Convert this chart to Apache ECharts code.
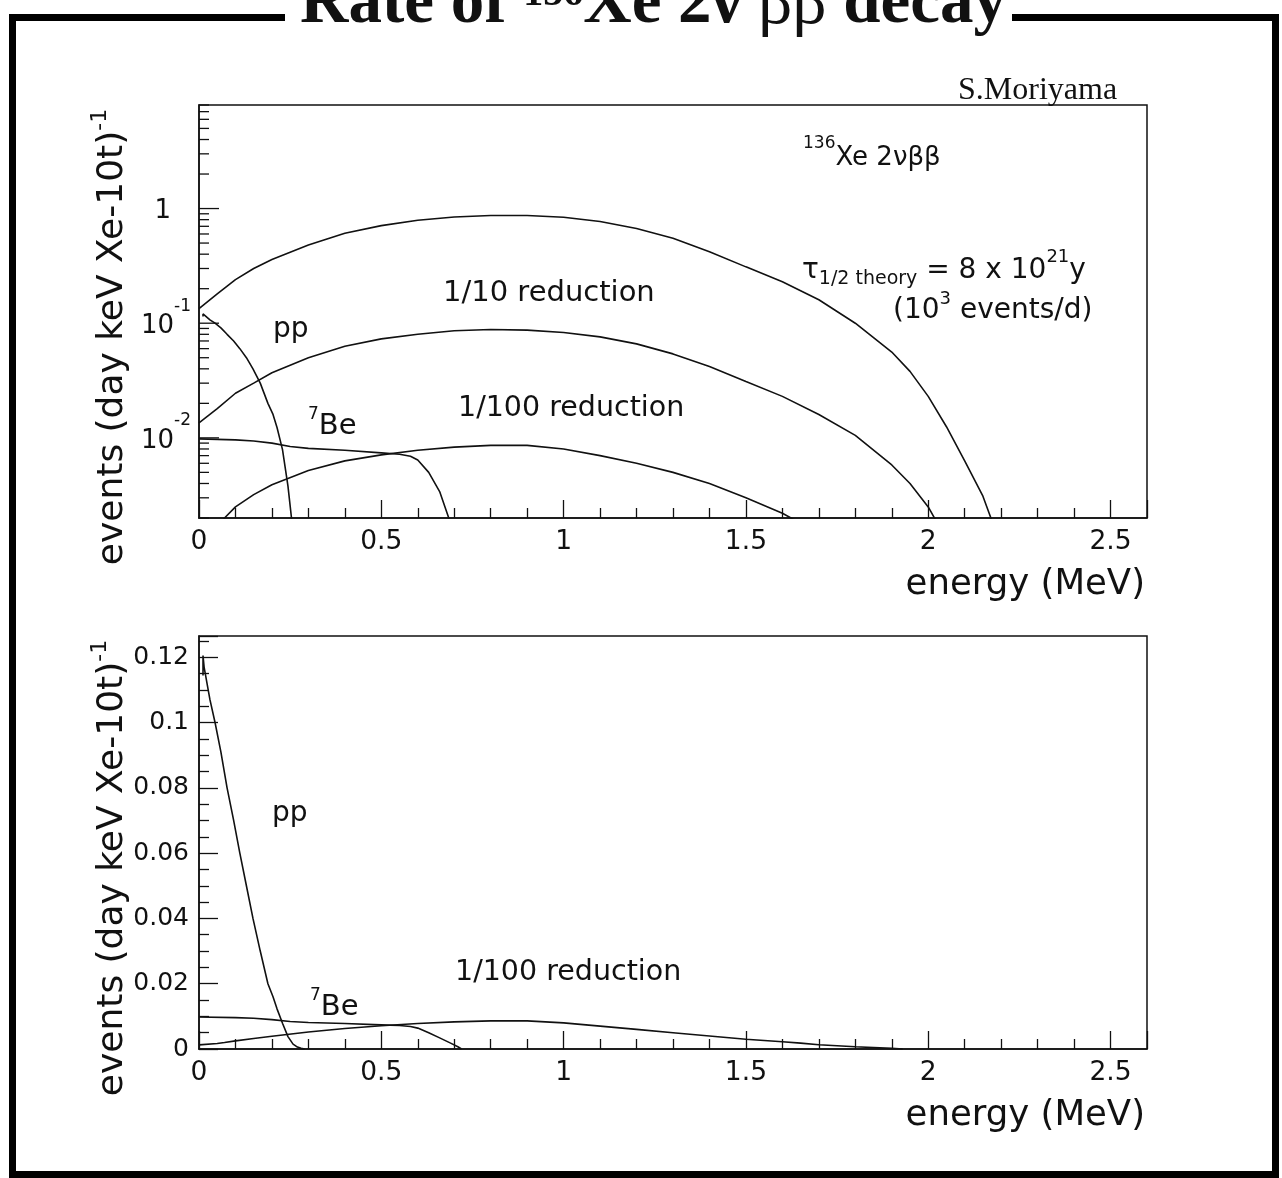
<!DOCTYPE html>
<html><head><meta charset="utf-8">
<script src="https://cdn.jsdelivr.net/npm/echarts@6/dist/echarts.min.js"></script>
<style>html,body{margin:0;padding:0;background:#fff}#c{width:1282px;height:1178px}</style>
</head><body><div id="c"></div><script>
// ---------------- data ----------------
// 136Xe 2nbb spectrum (full rate)
const energyFull = [0,0.05,0.1,0.15,0.2,0.3,0.4,0.5,0.6,0.7,0.8,0.9,1.0,1.1,1.2,1.3,1.4,1.5,1.6,1.7,1.8,1.9,1.95,2.0,2.05,2.1,2.15,2.18,2.2,2.23];
const rateFull   = [0.134,0.18,0.24,0.30,0.36,0.48,0.61,0.71,0.79,0.845,0.87,0.87,0.84,0.77,0.67,0.55,0.42,0.31,0.23,0.16,0.10,0.056,0.038,0.023,0.0125,0.0063,0.0031,0.0017,0.0009,0.0002];
// 1/10 reduction
const energyTenth = [0,0.05,0.1,0.15,0.2,0.3,0.4,0.5,0.6,0.7,0.8,0.9,1.0,1.1,1.2,1.3,1.4,1.5,1.6,1.7,1.8,1.9,1.95,2.0,2.05,2.1,2.13];
const rateTenth   = [0.0135,0.018,0.0245,0.030,0.037,0.050,0.063,0.073,0.080,0.086,0.088,0.087,0.083,0.076,0.066,0.054,0.042,0.031,0.023,0.016,0.0105,0.0058,0.0040,0.0025,0.0013,0.0005,0.0001];
// 1/100 reduction
const energyHundredth = [0,0.05,0.07,0.1,0.15,0.2,0.3,0.4,0.5,0.6,0.7,0.8,0.9,1.0,1.1,1.2,1.3,1.4,1.5,1.6,1.65,1.7,1.8,1.9,1.93];
const rateHundredth   = [0.00125,0.0017,0.0020,0.0025,0.0032,0.0039,0.0052,0.0063,0.0071,0.0078,0.0083,0.0086,0.0086,0.0080,0.0070,0.0060,0.0050,0.0040,0.0030,0.0022,0.0018,0.0013,0.0007,0.0002,0];
// pp solar neutrinos
const energyPP = [0.011,0.011,0.014,0.03,0.044,0.06,0.077,0.095,0.112,0.13,0.148,0.168,0.189,0.203,0.214,0.229,0.244,0.258,0.27,0.28,0.29];
const ratePP   = [0.1144,0.1205,0.117,0.107,0.1,0.091,0.08,0.07,0.06,0.05,0.04,0.03,0.02,0.016,0.0123,0.0079,0.0038,0.0015,0.0006,0.0002,0];
// 7Be solar neutrinos
const energyBe7 = [0,0.1,0.15,0.2,0.25,0.3,0.4,0.5,0.55,0.58,0.6,0.63,0.66,0.69,0.71,0.72];
const rateBe7   = [0.0098,0.0096,0.0094,0.0090,0.0084,0.0081,0.0078,0.0074,0.0072,0.0069,0.0064,0.0050,0.0034,0.0018,0.0007,0];

// ticks
const xTickValues = [0,0.5,1,1.5,2,2.5];
const xTickLabels = ['0','0.5','1','1.5','2','2.5'];
const topYTickValues = [0.01,0.1,1];
const topYTickLabels = ['10^-2','10^-1','1'];
const topYMinorTickValues = [0.002,0.003,0.004,0.005,0.006,0.007,0.008,0.009,0.02,0.03,0.04,0.05,0.06,0.07,0.08,0.09,0.2,0.3,0.4,0.5,0.6,0.7,0.8,0.9,2,3,4,5,6,7,8];
const bottomYTickValues = [0,0.02,0.04,0.06,0.08,0.1,0.12];
const bottomYTickLabels = ['0','0.02','0.04','0.06','0.08','0.1','0.12'];

// ---------------- styling / layout ----------------
const ink = '#111';
const sans = 'DejaVu Sans';
const serif = 'Liberation Serif';

function zip(xs, ys, positiveOnly) {
  const out = [];
  for (let i = 0; i < xs.length; i++) {
    if (!positiveOnly || ys[i] > 0) out.push([xs[i], ys[i]]);
  }
  return out;
}
function findLabel(v, values, labels) {
  for (let i = 0; i < values.length; i++) {
    const ref = values[i];
    if (ref === 0 ? Math.abs(v) < 1e-9 : Math.abs(v / ref - 1) < 1e-6) return labels[i];
  }
  return '';
}
function powLabel(s) {
  if (!s) return '';
  const m = s.split('^');
  if (m.length === 2) return '{b|' + m[0] + '}{s|' + m[1] + '}';
  return '{b|' + s + '}{gap|}';
}

const lineStyle = { color: ink, width: 1.6 };
function lineSeries(xi, yi, data) {
  return { type: 'line', xAxisIndex: xi, yAxisIndex: yi, data: data, showSymbol: false, symbol: 'none',
    smooth: false, lineStyle: lineStyle, clip: true, silent: true, animation: false, z: 5 };
}

const tickData = [];
topYTickValues.forEach(v => tickData.push([0, v, 1]));
topYMinorTickValues.forEach(v => tickData.push([0, v, 0]));

function xAxisCfg(gi) {
  return {
    type: 'value', gridIndex: gi, min: 0, max: 2.6, interval: 0.5,
    axisLine: { show: true, onZero: false, lineStyle: { color: ink, width: 1.5 } },
    axisTick: { show: true, inside: true, length: 18, lineStyle: { color: ink, width: 1.3 } },
    minorTick: { show: true, splitNumber: 5, length: 10, lineStyle: { color: ink, width: 1.3 } },
    splitLine: { show: false }, minorSplitLine: { show: false },
    axisLabel: { margin: 11, fontSize: 26.5, fontFamily: sans, color: ink, showMaxLabel: false,
      formatter: v => findLabel(v, xTickValues, xTickLabels) }
  };
}

function base(fs, fam, w) { return { fontSize: fs, fontFamily: fam || sans, fontWeight: w || 'normal', fill: ink, color: ink, verticalAlign: 'middle' }; }
function sup(fs, raise, fam, w) { return { fontSize: fs, fontFamily: fam || sans, fontWeight: w || 'normal', fill: ink, color: ink, verticalAlign: 'middle', padding: [0, 0, 2 * raise, 0] }; }
function sub(fs, drop, fam) { return { fontSize: fs, fontFamily: fam || sans, fill: ink, color: ink, verticalAlign: 'middle', padding: [2 * drop, 0, 0, 0] }; }

function textEl(x, y, text, rich, extra, elExtra) {
  return Object.assign({
    type: 'text', x: x, y: y, z: 100, silent: true,
    style: Object.assign({ text: text, rich: rich, fill: ink, align: 'left', verticalAlign: 'middle', fontFamily: sans }, extra || {})
  }, elExtra || {});
}
function rect(x, y, w, h) {
  return { type: 'rect', z: 90, silent: true, shape: { x: x, y: y, width: w, height: h }, style: { fill: '#000' } };
}

const yTitle = '{m|events (day keV Xe-10t)}{s|-1}';
const yTitleRich = { m: base(36), s: sup(22, 13) };

const graphics = [
  // page frame
  rect(9, 14, 7, 1164),
  rect(1272, 14, 7, 1164),
  rect(9, 1171, 1270, 7),
  rect(9, 14, 276, 7),
  rect(1012, 14, 267, 7),
  // title
  textEl(300, 5, '{b|Rate of }{bs|136}{b|Xe 2ν }{g|ββ}{b| decay}', {
    b: base(67, serif, 'bold'), bs: sup(40, 10, serif, 'bold'), g: base(67, serif, 'normal')
  }),
  // author
  textEl(958, 91, '{a|S.Moriyama}', { a: base(32, serif) }),
  // top panel annotations
  textEl(803, 158, '{s|136}{b|Xe 2νββ}', { b: base(26), s: sup(17, 14) }),
  textEl(802, 271, '{b|τ}{d|1/2 theory}{b| = 8 x 10}{s|21}{b|y}', { b: base(28), d: sub(19, 8), s: sup(18, 14) }),
  textEl(893, 311, '{b|(10}{s|3}{b| events/d)}', { b: base(28), s: sup(18, 12) }),
  textEl(443, 293, '{b|1/10 reduction}', { b: base(29) }),
  textEl(273, 330, '{b|pp}', { b: base(28) }),
  textEl(308, 426, '{s|7}{b|Be}', { b: base(29), s: sup(17, 11) }),
  textEl(458, 409, '{b|1/100 reduction}', { b: base(28.5) }),
  // bottom panel annotations
  textEl(272, 814, '{b|pp}', { b: base(28) }),
  textEl(310, 1007, '{s|7}{b|Be}', { b: base(29), s: sup(17, 11) }),
  textEl(455, 973, '{b|1/100 reduction}', { b: base(28.5) }),
  // axis titles
  textEl(1145, 585, '{b|energy (MeV)}', { b: base(35.5) }, { align: 'right' }),
  textEl(1145, 1116, '{b|energy (MeV)}', { b: base(35.5) }, { align: 'right' }),
  textEl(113, 337, yTitle, yTitleRich, { align: 'center' }, { rotation: Math.PI / 2 }),
  textEl(113, 868, yTitle, yTitleRich, { align: 'center' }, { rotation: Math.PI / 2 })
];

const option = {
  animation: false,
  backgroundColor: '#fff',
  grid: [
    { left: 199, top: 105, width: 948, height: 413, show: true, borderColor: ink, borderWidth: 1.5, backgroundColor: 'transparent' },
    { left: 199, top: 636, width: 948, height: 413, show: true, borderColor: ink, borderWidth: 1.5, backgroundColor: 'transparent' }
  ],
  xAxis: [xAxisCfg(0), xAxisCfg(1)],
  yAxis: [
    {
      type: 'log', gridIndex: 0, logBase: 10, min: 0.002, max: 8,
      axisLine: { show: true, lineStyle: { color: ink, width: 1.5 } },
      axisTick: { show: false }, splitLine: { show: false }, minorTick: { show: false },
      axisLabel: {
        margin: 8, showMinLabel: false, showMaxLabel: false,
        formatter: v => powLabel(findLabel(v, topYTickValues, topYTickLabels)),
        rich: { b: { fontSize: 26, fontFamily: sans, color: ink, verticalAlign: 'middle', padding: [6, 0, 0, 0] },
                s: { fontSize: 17, fontFamily: sans, color: ink, verticalAlign: 'middle', padding: [0, 0, 34, 0] },
                gap: { width: 20 } }
      }
    },
    {
      type: 'value', gridIndex: 1, min: 0, max: 0.1265, interval: 0.02,
      axisLine: { show: true, onZero: false, lineStyle: { color: ink, width: 1.5 } },
      axisTick: { show: true, inside: true, length: 19, lineStyle: { color: ink, width: 1.3 } },
      minorTick: { show: true, splitNumber: 4, length: 10, lineStyle: { color: ink, width: 1.3 } },
      splitLine: { show: false }, minorSplitLine: { show: false },
      axisLabel: { margin: 10, fontSize: 25, fontFamily: sans, color: ink, showMaxLabel: false,
        formatter: v => findLabel(v, bottomYTickValues, bottomYTickLabels) }
    }
  ],
  series: [
    lineSeries(0, 0, zip(energyFull, rateFull, true)),
    lineSeries(0, 0, zip(energyTenth, rateTenth, true)),
    lineSeries(0, 0, zip(energyHundredth, rateHundredth, true)),
    lineSeries(0, 0, zip(energyPP, ratePP, true)),
    lineSeries(0, 0, zip(energyBe7, rateBe7, true)),
    {
      type: 'custom', xAxisIndex: 0, yAxisIndex: 0, data: tickData, encode: { x: 0, y: 1 },
      silent: true, animation: false, z: 6, clip: false,
      renderItem: function (params, api) {
        const p = api.coord([0, api.value(1)]);
        const len = api.value(2) ? 20 : 10;
        return { type: 'line', shape: { x1: p[0], y1: p[1], x2: p[0] + len, y2: p[1] },
          style: { stroke: ink, lineWidth: 1.3 } };
      }
    },
    lineSeries(1, 1, zip(energyPP, ratePP, false)),
    lineSeries(1, 1, zip(energyBe7, rateBe7, false)),
    lineSeries(1, 1, zip(energyHundredth, rateHundredth, false))
  ],
  graphic: { elements: graphics }
};

const chart = echarts.init(document.getElementById('c'), null, { renderer: 'canvas', width: 1282, height: 1178 });
chart.setOption(option);
</script></body></html>
